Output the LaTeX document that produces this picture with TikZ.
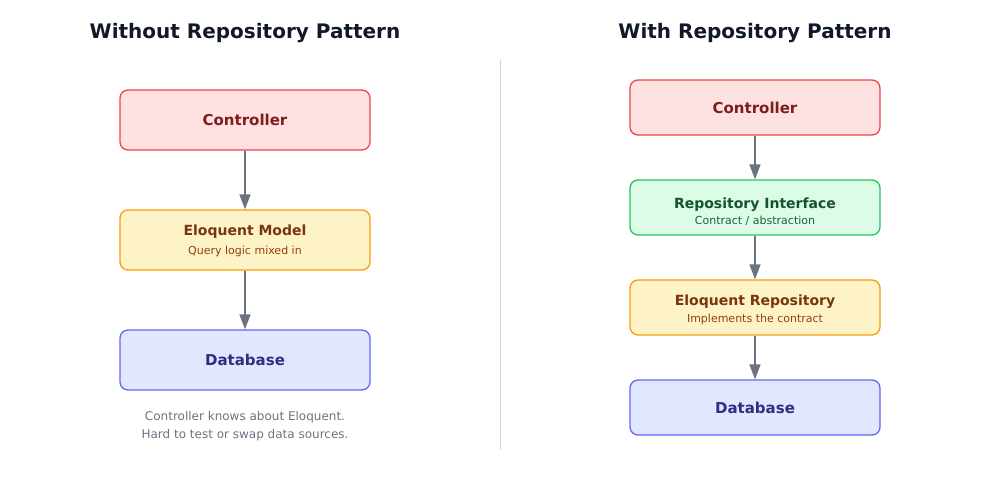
\documentclass[tikz,border=0pt]{standalone}
\usepackage{fontspec}
\setmainfont{DejaVu Sans}
\usetikzlibrary{calc, positioning}
\usetikzlibrary{arrows.meta}

\definecolor{ctlfill}{HTML}{FEE2E2}
\definecolor{ctlline}{HTML}{EF4444}
\definecolor{ctltext}{HTML}{7F1D1D}
\definecolor{eloqfill}{HTML}{FEF3C7}
\definecolor{eloqline}{HTML}{F59E0B}
\definecolor{eloqtext}{HTML}{78350F}
\definecolor{eloqsub}{HTML}{92400E}
\definecolor{repofill}{HTML}{DCFCE7}
\definecolor{repoline}{HTML}{22C55E}
\definecolor{repotext}{HTML}{14532D}
\definecolor{reposub}{HTML}{166534}
\definecolor{dbfill}{HTML}{E0E7FF}
\definecolor{dbline}{HTML}{6366F1}
\definecolor{dbtext}{HTML}{312E81}
\definecolor{flowgray}{HTML}{6B7280}
\definecolor{titlegray}{HTML}{111827}
\definecolor{splitgray}{HTML}{D1D5DB}

\tikzset{
  box/.style={draw, rounded corners=8pt, line width=1.3pt, minimum width=250pt,
    inner sep=0pt, font=\fontsize{15}{18}\selectfont\bfseries},
  ctlbox/.style={box, draw=ctlline, fill=ctlfill, text=ctltext},
  eloqbox/.style={box, draw=eloqline, fill=eloqfill, text=eloqtext},
  repobox/.style={box, draw=repoline, fill=repofill, text=repotext},
  dbbox/.style={box, draw=dbline, fill=dbfill, text=dbtext},
  head/.style={font=\fontsize{14}{16}\selectfont\bfseries, inner sep=0pt},
  sub/.style={font=\fontsize{11}{13}\selectfont, inner sep=0pt},
  flow/.style={-{Triangle[length=15pt, width=11pt]}, line width=1.5pt, draw=flowgray},
  heading/.style={font=\fontsize{20}{24}\selectfont\bfseries, text=titlegray},
}

\begin{document}
\begin{tikzpicture}[x=1pt, y=-1pt]
\useasboundingbox (0, 0) rectangle (1000, 480);
\def\lx{245}
\def\rx{755}

% titles and divider
\node[heading] (ltitle) at (\lx, 33) {Without Repository Pattern};
\node[heading] (rtitle) at (\rx, 33) {With Repository Pattern};
\coordinate (divtop) at (500, 60);
\coordinate (divbot) at (500, 450);
\draw[splitgray, line width=1pt] (divtop) -- (divbot);

% left column
\node[ctlbox, minimum height=60pt] (lctl) at (\lx, 120) {Controller};
\node[eloqbox, minimum height=60pt] (lmodel) at (\lx, 240) {};
\node[dbbox, minimum height=60pt] (ldb) at (\lx, 360) {Database};
\node[head, text=eloqtext] (lmodel-t) at ($(lmodel.center)+(0, -8)$) {Eloquent Model};
\node[sub, text=eloqsub] (lmodel-s) at ($(lmodel.center)+(0, 11)$) {Query logic mixed in};

\draw[flow] (lctl) -- (lmodel);
\draw[flow] (lmodel) -- (ldb);

\node[font=\fontsize{12}{18}\selectfont, text=flowgray, align=center, below=17pt of ldb] (lnote)
  {Controller knows about Eloquent.\\Hard to test or swap data sources.};

% right column
\node[ctlbox, minimum height=55pt] (rctl) at (\rx, 107.5) {Controller};
\node[repobox, minimum height=55pt] (rrepo) at (\rx, 207.5) {};
\node[eloqbox, minimum height=55pt] (reloq) at (\rx, 307.5) {};
\node[dbbox, minimum height=55pt] (rdb) at (\rx, 407.5) {Database};
\node[head, text=repotext] (rrepo-t) at ($(rrepo.center)+(0, -3)$) {Repository Interface};
\node[sub, text=reposub] (rrepo-s) at ($(rrepo.center)+(0, 13.5)$) {Contract / abstraction};
\node[head, text=eloqtext] (reloq-t) at ($(reloq.center)+(0, -6)$) {Eloquent Repository};
\node[sub, text=eloqsub] (reloq-s) at ($(reloq.center)+(0, 12)$) {Implements the contract};

\draw[flow] (rctl) -- (rrepo);
\draw[flow] (rrepo) -- (reloq);
\draw[flow] (reloq) -- (rdb);
\end{tikzpicture}
\end{document}
